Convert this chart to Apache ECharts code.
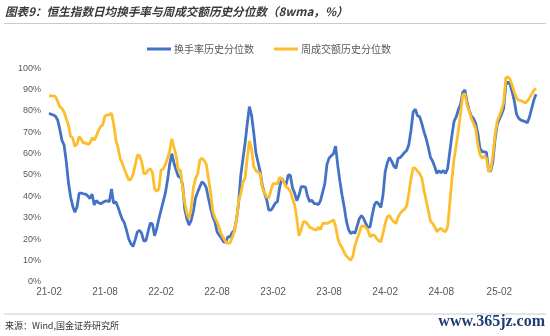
<!DOCTYPE html>
<html>
<head>
<meta charset="utf-8">
<script src="https://cdn.jsdelivr.net/npm/echarts@6/dist/echarts.min.js"></script>
<style>
html,body{margin:0;padding:0;background:#fff;}
#c{width:550px;height:336px;}
</style>
</head>
<body>
<div id="c"></div>
<script>
// ---- data (weekly, 8wma percentile, %) ----
const startDate = '2021-02-05';
const tickLabels = ['21-02','21-08','22-02','22-08','23-02','23-08','24-02','24-08','25-02'];
const seriesNames = ['换手率历史分位数','周成交额历史分位数'];

const turnover = [
78.9,78.5,78.1,77.5,75.8,71.5,66.3,64,56.5,46.7,
39.8,35.5,32.5,35,41.5,41.5,41.2,41,40.2,39,
41,36,38,37,36.5,37.2,37.7,37.9,37.5,43.5,
36.7,37.5,35,32,29.3,27.5,24,20,17.8,16.5,
19.6,23.3,24.1,22.7,19,19.3,23.6,27.5,27,21.5,
25,29.5,33.5,37.5,41.5,47.5,55,60,55.5,52.3,
49.3,49,45.5,34,29.4,26.5,28.8,33,39.2,42,
44.5,46.8,46,44,39,34.5,30.5,28,23.4,21.7,
20.5,18.7,18.5,21,21,23,24,29,37,50,
57.5,65,74,82,78,70,60.5,56,51.6,45,
41.5,38.5,33.5,33.5,35,36.8,37.5,44,48.5,46.6,
45.3,50,49.9,44,41.5,38,40.5,44.5,44.5,44.3,
40,37.5,38.2,36.6,36.6,36.1,38,42,46,55,
58,59,60,63.5,54.5,47,40.5,35,28.5,24.5,
22.5,23.3,22.6,26,29.5,31,29.6,27.3,25.4,25.7,
31.2,35.9,37.5,36.4,34.8,40.6,51.5,55.7,58.2,56.5,
54.2,53.1,57.8,58.2,59.3,60.6,61.5,64.3,71,79.6,
80.9,77.8,77.3,74.2,70.3,67.1,63.1,58.4,56.5,53.9,
50.7,52,51,52.1,50.7,53.1,60.9,68.7,75.3,77.3,
80.7,83.1,88.7,89.8,84.3,80.4,77.6,76.5,74.2,69.5,
62.5,60.9,60.9,60.6,52.3,51.8,56.5,66.8,73.7,76.2,
78.4,81.2,92.4,93.7,92.4,88.7,84.3,78.4,76.5,75.7,
75.4,75,74.5,77.3,81.2,85.1,87.8
];

const volume = [
87.1,87.1,87.1,86.8,84.5,82,81.2,79.5,76.5,73.4,
68.2,67.4,63.4,64.5,68,66.6,65,65.1,64.3,65,
67.5,66.4,68.3,71,72.7,73.6,77.8,78,78.3,78.9,
74,66.5,63,57.7,55.5,52.7,50.1,47.6,48,50.3,
54.6,59.3,59.2,56.3,50.7,50.7,52.3,52.9,51.2,43.5,
42.4,43.5,52.3,52.9,54.8,57.8,61.2,67,63,59,
52.3,52.3,44,37,32,29.6,34.5,44,48.4,50.5,
57,57.8,56.8,55,48.4,42,33,30,28,25.3,
22.3,20.5,18.8,17.9,18.2,20.6,23.5,29,37.5,41.5,
46.5,48.5,58,66,62,54,52,51.3,50.7,44,
41.7,39.7,39.2,42.8,46,46,45.8,49,48,46.5,
44.5,43.8,42.3,39,36,29.8,21.5,24.3,28,28.1,
27,25.5,25,24.5,24.2,25.5,24.5,27.3,27.4,27.3,
27.8,28.3,29,26,20.5,17.5,16,13.7,12,11,
10,12,17,20,23,26,26.2,25.4,24.2,21,
21.8,21.8,20.3,19.2,18.7,22.6,27.3,30.4,31,29.2,
28.1,27.3,30.4,32,33.1,34,35.6,41.4,48.4,53.4,
53.1,51.8,50.7,48.7,42.9,38.2,33.5,28.5,27.3,25.7,
23.4,24.6,25,23.9,23.4,25.7,36.7,48.4,57.8,64,
71,78.9,87.4,88.2,82.8,80,76.5,74.2,71.8,64,
59.6,57.8,58.9,57.8,51.5,52.6,59.3,68.7,75.3,77.8,
80.4,84,95.6,96,94.8,91.8,88.7,85.9,85.1,84.8,
84.3,83.7,84.6,86.2,87.9,89.8,90.6
];

// weekly category labels (YY-MM)
const categories = [];
(function(){
  const d0 = new Date(startDate + 'T00:00:00Z');
  for (let i = 0; i < turnover.length; i++) {
    const d = new Date(d0.getTime() + i * 7 * 86400000);
    const yy = String(d.getUTCFullYear()).slice(2);
    const mm = String(d.getUTCMonth() + 1).padStart(2, '0');
    categories.push(yy + '-' + mm);
  }
})();
const showIdx = new Set();
tickLabels.forEach(t => { const i = categories.indexOf(t); if (i >= 0) showIdx.add(i); });

const chart = echarts.init(document.getElementById('c'), null, {renderer: 'canvas'});
const cjk = '"Noto Sans CJK SC", "Noto Sans", sans-serif';
chart.setOption({
  animation: false,
  backgroundColor: '#ffffff',
  grid: {left: 49, right: 14, top: 68.3, bottom: 54.3, containLabel: false},
  legend: {
    left: 142, top: 39,
    itemWidth: 24, itemHeight: 3, itemGap: 20,
    icon: 'rect',
    textStyle: {fontFamily: cjk, fontSize: 10, color: '#595959', padding: [0,0,0,-2]},
    data: seriesNames
  },
  xAxis: {
    type: 'category',
    data: categories,
    boundaryGap: false,
    axisLine: {show: false},
    axisTick: {show: false},
    splitLine: {show: false},
    axisLabel: {
      interval: (idx) => showIdx.has(idx),
      fontFamily: 'Liberation Sans, Arial, sans-serif',
      fontSize: 10, color: '#595959', margin: 6
    }
  },
  yAxis: {
    type: 'value', min: 0, max: 100, interval: 10,
    axisLine: {show: false},
    axisTick: {show: false},
    splitLine: {show: false},
    axisLabel: {
      formatter: '{value}%',
      fontFamily: 'Liberation Sans, Arial, sans-serif',
      fontSize: 9, color: '#595959', margin: 8
    }
  },
  series: [
    {name: seriesNames[0], type: 'line', data: turnover, showSymbol: false, symbol: 'none',
     lineStyle: {color: '#4472C4', width: 2.8}, itemStyle: {color: '#4472C4'}},
    {name: seriesNames[1], type: 'line', data: volume, showSymbol: false, symbol: 'none',
     lineStyle: {color: '#FDBE2E', width: 2.8}, itemStyle: {color: '#FDBE2E'}}
  ],
  graphic: [
    {type: 'text', left: 5, top: 6,
     style: {text: '图表9：恒生指数日均换手率与周成交额历史分位数（8wma，%）',
             font: 'italic bold 11.6px "Noto Sans CJK SC", sans-serif', fill: '#3a3a3a'}},
    {type: 'line', shape: {x1: 4, y1: 23.5, x2: 546, y2: 23.5},
     style: {stroke: '#c3ccd6', lineWidth: 1}},
    {type: 'line', shape: {x1: 4, y1: 314, x2: 546, y2: 314},
     style: {stroke: '#c3ccd6', lineWidth: 1}},
    {type: 'text', left: 5, top: 321,
     style: {text: '来源：Wind,国金证券研究所', font: '9px "Noto Sans CJK SC", sans-serif', fill: '#333333'}},
    {type: 'text', right: 5, top: 314,
     style: {text: 'www.365jz.com', font: 'bold 16px "Liberation Serif", "DejaVu Serif", serif', fill: '#1f3d73'}}
  ]
});
</script>
</body>
</html>
